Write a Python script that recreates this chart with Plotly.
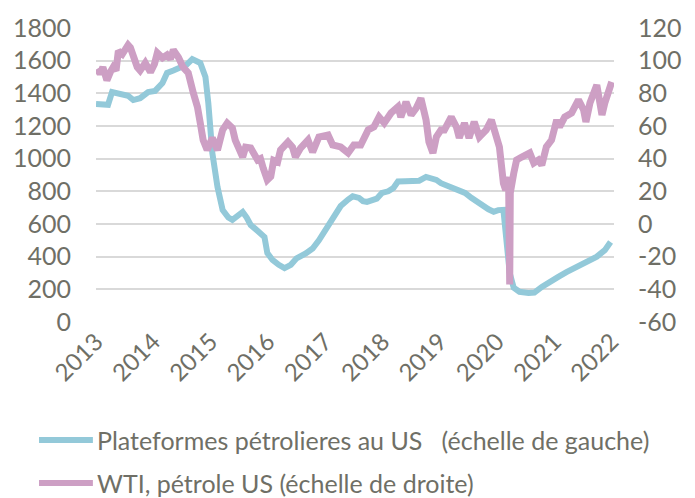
import plotly.graph_objects as go

# Oil rig count (left axis) - decimal years
rig_t = [2013.00, 2013.21, 2013.28, 2013.42, 2013.56, 2013.65, 2013.77, 2013.91, 2014.03, 2014.16,
         2014.24, 2014.35, 2014.47, 2014.58, 2014.68, 2014.77, 2014.82, 2014.91, 2014.96, 2015.03,
         2015.12, 2015.21, 2015.31, 2015.38, 2015.47, 2015.56, 2015.63, 2015.70, 2015.78, 2015.87,
         2015.94, 2015.99, 2016.08, 2016.19, 2016.29, 2016.40, 2016.50, 2016.66, 2016.78, 2016.89,
         2016.96, 2017.06, 2017.19, 2017.27, 2017.40, 2017.48, 2017.59, 2017.66, 2017.73, 2017.82,
         2017.90, 2017.99, 2018.10, 2018.19, 2018.27, 2018.40, 2018.53, 2018.64, 2018.76, 2018.85,
         2018.94, 2019.02, 2019.13, 2019.23, 2019.34, 2019.44, 2019.55, 2019.65, 2019.76, 2019.85,
         2019.94, 2020.02, 2020.11, 2020.16, 2020.22, 2020.29, 2020.39, 2020.55, 2020.65, 2020.78,
         2020.92, 2021.06, 2021.21, 2021.39, 2021.56, 2021.74, 2021.88, 2021.98]
rig_v = [1335, 1330, 1408, 1400, 1385, 1359, 1370, 1408, 1415, 1463,
         1525, 1540, 1555, 1575, 1610, 1600, 1586, 1500, 1341, 1035,
         827, 686, 640, 625, 655, 674, 640, 594, 570, 545,
         520, 422, 380, 350, 330, 350, 390, 420, 450, 500,
         540, 600, 670, 710, 750, 770, 760, 740, 735, 750,
         755, 790, 800, 820, 860, 862, 862, 865, 888, 880,
         870, 850, 835, 820, 805, 790, 760, 735, 710, 690,
         675, 685, 686, 500, 300, 210, 185, 178, 180, 215,
         250, 275, 305, 335, 365, 400, 440, 490]

# WTI price (right axis)
wti_t = [2013.02, 2013.07, 2013.12, 2013.19, 2013.25, 2013.30, 2013.35, 2013.39, 2013.46, 2013.56,
         2013.60, 2013.65, 2013.72, 2013.77, 2013.86, 2013.95, 2014.02, 2014.07, 2014.16, 2014.24,
         2014.30, 2014.35, 2014.44, 2014.52, 2014.61, 2014.70, 2014.77, 2014.82, 2014.87, 2014.94,
         2015.03, 2015.12, 2015.21, 2015.29, 2015.38, 2015.43, 2015.56, 2015.61, 2015.70, 2015.82,
         2015.87, 2015.92, 2015.99, 2016.05, 2016.10, 2016.17, 2016.22, 2016.35, 2016.43, 2016.48,
         2016.57, 2016.70, 2016.78, 2016.89, 2017.05, 2017.13, 2017.27, 2017.40, 2017.50, 2017.62,
         2017.75, 2017.85, 2017.94, 2018.03, 2018.15, 2018.27, 2018.32, 2018.41, 2018.50, 2018.59,
         2018.67, 2018.76, 2018.81, 2018.88, 2018.94, 2019.02, 2019.08, 2019.20, 2019.29, 2019.34,
         2019.43, 2019.51, 2019.60, 2019.69, 2019.81, 2019.90, 2019.99, 2020.04, 2020.11, 2020.15,
         2020.20, 2020.22, 2020.23, 2020.29, 2020.34, 2020.43, 2020.57, 2020.64, 2020.72, 2020.78,
         2020.86, 2020.95, 2021.04, 2021.09, 2021.18, 2021.30, 2021.42, 2021.51, 2021.55, 2021.62,
         2021.74, 2021.83, 2021.88, 2022.00]
wti_v = [95, 92, 96, 88, 93, 96, 94, 106, 104, 109.6,
         108, 102, 96, 94, 98.6, 93, 98, 104.7, 101.7, 103.5,
         101, 106.6, 102, 96, 92.5, 80, 71.7, 61.8, 51.4, 45.3,
         52.7, 45.3, 57.6, 61.8, 58.8, 51.4, 41, 47, 46.5, 39.2,
         40, 34, 27, 29, 39, 38, 45.3, 50.2, 47, 41,
         46.5, 51.4, 44, 53.3, 54.5, 48.4, 47.2, 43.5, 48.4, 48.4,
         57.6, 59.4, 65.5, 61.8, 68, 71.7, 65.5, 74.7, 66.8, 71,
         77, 63.7, 50.2, 43.5, 53.3, 57.6, 57.6, 65.5, 59.4, 52.7,
         61.8, 52.7, 62.5, 53.3, 57.6, 63.7, 53.3, 47.2, 25, 20.8,
         28.8, -37, 19, 31, 39.2, 41, 43.5, 37.4, 39.2, 36,
         47.2, 51.4, 63.7, 59.4, 65.5, 68, 76, 69.8, 62.5, 74.1,
         85.1, 66.8, 74.1, 87]

year_ticks = [2013, 2014, 2015, 2016, 2017, 2018, 2019, 2020, 2021, 2022]
left_ticks = [0, 200, 400, 600, 800, 1000, 1200, 1400, 1600, 1800]
right_ticks = [-60, -40, -20, 0, 20, 40, 60, 80, 100, 120]

name_rig = "Plateformes pétrolieres au US \u00a0\u00a0(échelle de gauche)"
name_wti = "WTI, pétrole US (échelle de droite)"

FONT = "Lato"
GREY = "#6f6f66"
C_RIG = "#93c9d9"
C_WTI = "#cd9fc4"

fig = go.Figure()
fig.add_trace(go.Scatter(x=rig_t, y=rig_v, mode="lines", name=name_rig,
                         line=dict(color=C_RIG, width=6), yaxis="y"))
fig.add_trace(go.Scatter(x=wti_t, y=wti_v, mode="lines", name=name_wti,
                         line=dict(color=C_WTI, width=7), yaxis="y2"))

# the page body adds an 8px offset, so the figure is 687x490
fig.update_layout(
    width=687, height=490,
    margin=dict(l=88, r=81, t=20, b=176),
    paper_bgcolor="white", plot_bgcolor="white",
    font=dict(family=FONT, size=25, color=GREY),
    showlegend=False,
    xaxis=dict(range=[2013, 2022.04], tickvals=year_ticks, ticktext=[str(y) for y in year_ticks],
               tickangle=-45, showgrid=False, zeroline=False, showline=False, ticks="",
               tickfont=dict(size=24), automargin=False),
    yaxis=dict(range=[0, 1800], tickvals=left_ticks, showgrid=True, gridcolor="#d9d9d9",
               gridwidth=1.5, zeroline=False, showline=False, ticks="", ticklabelstandoff=24,
               automargin=False),
    yaxis2=dict(range=[-60, 120], tickvals=right_ticks, ticktext=[str(v) for v in right_ticks],
                overlaying="y", side="right",
                showgrid=False, zeroline=False, showline=False, ticks="", ticklabelstandoff=23,
                automargin=False),
)

# Legend drawn below the plot (paper coordinates)
legend_items = [(name_rig, C_RIG, -0.401), (name_wti, C_WTI, -0.548)]
for label, col, ly in legend_items:
    fig.add_shape(type="line", xref="paper", yref="paper", x0=-0.110, x1=-0.006, y0=ly, y1=ly,
                  line=dict(color=col, width=6))
    fig.add_annotation(xref="paper", yref="paper", x=-0.002, y=ly, text=label, showarrow=False,
                       xanchor="left", yanchor="middle", font=dict(size=25, color=GREY))

fig.write_html("out.html")
